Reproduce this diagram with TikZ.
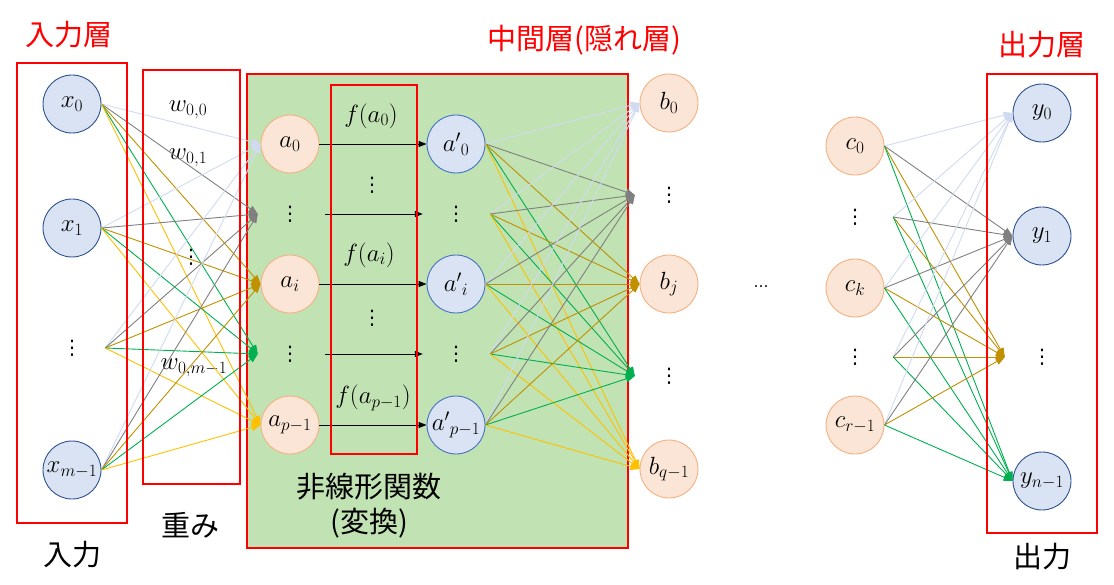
\documentclass[tikz,border=0pt]{standalone}
\usepackage{amsmath}
\usepackage{fontspec}
\usepackage{tikz}
\usetikzlibrary{arrows.meta, positioning}
\newfontfamily\jpfont{Noto Sans CJK JP}
\newfontfamily\symfont{DejaVu Sans}
\definecolor{nnred}{RGB}{255,0,0}
\definecolor{nnblue}{RGB}{218,227,243}
\definecolor{nnbluedark}{RGB}{47,82,143}
\definecolor{nnblueline}{RGB}{68,114,196}
\definecolor{nnorange}{RGB}{251,229,214}
\definecolor{nnorangeline}{RGB}{244,177,131}
\definecolor{nngreen}{RGB}{193,226,178}
\definecolor{wpale}{RGB}{208,218,240}
\definecolor{wgray}{RGB}{128,128,128}
\definecolor{wdarkgold}{RGB}{191,144,0}
\definecolor{wgreen}{RGB}{0,176,80}
\definecolor{wgold}{RGB}{255,192,0}
\newcommand{\nnfont}{\fontsize{25}{30}\selectfont}
\newcommand{\jpsize}{\jpfont\fontsize{29}{35}\selectfont}
\newcommand{\vdts}{{\symfont\fontsize{20}{24}\selectfont ⋮}}
\tikzset{
  innode/.style={circle, draw=nnbluedark, fill=nnblue, minimum size=58pt,
    inner sep=0pt, line width=0.9pt, font=\nnfont},
  hidnode/.style={circle, draw=nnblueline, fill=nnblue, minimum size=58pt,
    inner sep=0pt, line width=0.9pt, font=\nnfont},
  sumnode/.style={circle, draw=nnorangeline, fill=nnorange, minimum size=58pt,
    inner sep=0pt, line width=0.9pt, font=\nnfont},
  dotlbl/.style={inner sep=0pt},
  lbl/.style={inner sep=0pt, font=\nnfont},
  pt/.style={inner sep=0pt, minimum size=0pt},
  redbox/.style={draw=nnred, line width=1.4pt},
  title/.style={inner sep=0pt, font=\jpsize, text=nnred},
  caption/.style={inner sep=0pt, font=\jpsize, align=center},
  wedge/.style={line width=0.9pt, -{Triangle[length=9pt, width=7pt]}},
  farrow/.style={line width=0.9pt, black, -{Triangle[length=8pt, width=6pt]}}
}
\begin{document}
\begin{tikzpicture}[x=1pt, y=-1pt, on grid]
  \useasboundingbox (0,0) rectangle (1114,585);
  \draw[redbox, fill=nngreen] (247,74) rectangle (628,548);

  \node[title] (tin) at (69,35) {入力層};
  \node[title] (tmid) at (584,40) {中間層(隠れ層)};
  \node[title] (tout) at (1042,45) {出力層};
  \node[caption] (cin) at (72,555) {入力};
  \node[caption] (cw) at (190,525) {重み};
  \node[caption] (cf) at (369,506) {非線形関数\\(変換)};
  \node[caption] (cout) at (1042,557) {出力};

  \node[innode] (x0) at (72,104) {$x_0$};
  \node[innode, below=124pt of x0] (x1) {$x_1$};
  \node[dotlbl, below=120pt of x1] (xv) {\vdts};
  \node[innode, below=122pt of xv] (xm) {$x_{m-1}$};
  \node[pt, right=33pt of xv] (xs) {};

  \node[lbl] (w00) at (188,110) {$w_{0,0}$};
  \node[lbl, below=48pt of w00] (w01) {$w_{0,1}$};
  \node[dotlbl] (wv) at (191,257) {\vdts};
  \node[lbl] (wm) at (194,368) {$w_{0,m-1}$};

  \node[sumnode] (a0) at (290,144) {$a_0$};
  \node[dotlbl, below=70pt of a0] (av1) {\vdts};
  \node[sumnode, below=70pt of av1] (ai) {$a_i$};
  \node[dotlbl, below=70pt of ai] (av2) {\vdts};
  \node[sumnode, below=71pt of av2] (ap) {$a_{p-1}$};
  \node[pt, left=32pt of av1] (at1) {};
  \node[pt, left=32pt of av2] (at2) {};
  \node[pt, right=35pt of av1] (as1) {};
  \node[pt, right=35pt of av2] (as2) {};

  \node[lbl] (f0) at (371,116) {$f(a_0)$};
  \node[dotlbl] (fv1) at (372,185) {\vdts};
  \node[lbl] (fi) at (369,255) {$f(a_i)$};
  \node[dotlbl] (fv2) at (372,318) {\vdts};
  \node[lbl] (fp) at (373,398) {$f(a_{p-1})$};

  \node[hidnode, right=166pt of a0] (h0) {$a'{}_0$};
  \node[dotlbl, below=70pt of h0] (hv1) {\vdts};
  \node[hidnode, below=70pt of hv1] (hi) {$a'{}_i$};
  \node[dotlbl, below=70pt of hi] (hv2) {\vdts};
  \node[hidnode, below=71pt of hv2] (hp) {$a'{}_{p-1}$};
  \node[pt, left=33pt of hv1] (ae1) {};
  \node[pt, left=33pt of hv2] (ae2) {};
  \node[pt, right=34pt of hv1] (hs1) {};
  \node[pt, right=34pt of hv2] (hs2) {};

  \node[sumnode] (b0) at (669,103) {$b_0$};
  \node[dotlbl, below=92pt of b0] (bv1) {\vdts};
  \node[sumnode, below=89pt of bv1] (bj) {$b_j$};
  \node[dotlbl, below=92pt of bj] (bv2) {\vdts};
  \node[sumnode, below=93pt of bv2] (bq) {$b_{q-1}$};
  \node[pt, left=34pt of bv1] (bt1) {};
  \node[pt, left=34pt of bv2] (bt2) {};

  \node[inner sep=0pt, font=\symfont\fontsize{15}{18}\selectfont] (hdots) at (761,287) {…};

  \node[sumnode] (c0) at (855,146) {$c_0$};
  \node[dotlbl, below=71pt of c0] (cv1) {\vdts};
  \node[sumnode, below=71pt of cv1] (ck) {$c_k$};
  \node[dotlbl, below=69pt of ck] (cv2) {\vdts};
  \node[sumnode, below=68pt of cv2] (cr) {$c_{r-1}$};
  \node[pt, right=38pt of cv1] (cs1) {};
  \node[pt, right=38pt of cv2] (cs2) {};

  \node[innode] (y0) at (1042,113) {$y_0$};
  \node[innode, below=123pt of y0] (y1) {$y_1$};
  \node[dotlbl, below=121pt of y1] (yv) {\vdts};
  \node[innode, below=124pt of yv] (yn) {$y_{n-1}$};
  \node[pt, left=37pt of yv] (yt) {};

  \foreach \s in {x0,x1,xs,xm}
    \foreach \t/\c in {a0/wpale, at1/wgray, ai/wdarkgold, at2/wgreen, ap/wgold}
      \draw[wedge, color=\c] (\s.east) -- (\t.west);

  \draw[farrow] (a0.east) -- (h0.west);
  \draw[farrow] (as1) -- (ae1);
  \draw[farrow] (ai.east) -- (hi.west);
  \draw[farrow] (as2) -- (ae2);
  \draw[farrow] (ap.east) -- (hp.west);

  \foreach \s in {h0,hs1,hi,hs2,hp}
    \foreach \t/\c in {b0/wpale, bt1/wgray, bj/wdarkgold, bt2/wgreen, bq/wgold}
      \draw[wedge, color=\c] (\s.east) -- (\t.west);

  \foreach \s in {c0,cs1,ck,cs2,cr}
    \foreach \t/\c in {y0/wpale, y1/wgray, yt/wdarkgold, yn/wgreen}
      \draw[wedge, color=\c] (\s.east) -- (\t.west);

  \draw[redbox] (17,63) rectangle (127,523);
  \draw[redbox] (143,70) rectangle (240,484);
  \draw[redbox] (331,85) rectangle (417,454);
  \draw[redbox] (987,74) rectangle (1097,533);
\end{tikzpicture}
\end{document}
